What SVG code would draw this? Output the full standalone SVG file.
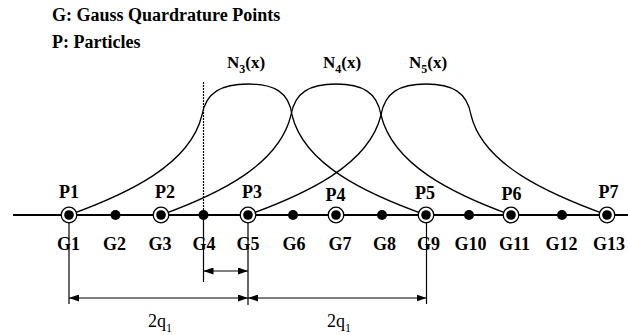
<svg xmlns="http://www.w3.org/2000/svg" width="628" height="335" viewBox="0 0 628 335">
<style>
.curve{fill:none;stroke:#000;stroke-width:1.3}
.ln{fill:none;stroke:#000;stroke-width:1.2}
.dim{fill:none;stroke:#000;stroke-width:1.2;marker-start:url(#ah);marker-end:url(#ah)}
.ring{fill:#fff;stroke:#000;stroke-width:1.3}
.dot{fill:#000}
</style>
<defs>
<marker id="ah" viewBox="0 0 10 7" refX="10" refY="3.5" markerWidth="10" markerHeight="7" markerUnits="userSpaceOnUse" orient="auto-start-reverse">
<path d="M0,0 L10,3.5 L0,7 z" fill="#000"/>
</marker>
</defs>
<rect width="628" height="335" fill="#fff"/>
<text x="52" y="21" font-family="Times New Roman" font-size="18" font-weight="bold">G: Gauss Quardrature Points</text>
<text x="52" y="48" font-family="Times New Roman" font-size="18" font-weight="bold">P: Particles</text>
<g id="connectors">
<line x1="13" y1="215" x2="628" y2="215" stroke="#000" stroke-width="1.8"/>
<path id="N3" class="curve" d="M69 215 C127 194,190 165,202 115 C206 92,222 84,248 84 C274 84,289 92,292 115 C304 165,367 194,426 215"/>
<path id="N4" class="curve" d="M161 215 C219 194,279 165,291 115 C295 92,310 84,336 84 C362 84,377 92,381 115 C393 165,453 194,511 215"/>
<path id="N5" class="curve" d="M248 215 C306 194,369 165,381 115 C385 92,400 84,426 84 C452 84,467 92,471 115 C483 165,549 194,607 215"/>
<line class="ln" x1="203.5" y1="82" x2="203.5" y2="215" stroke-dasharray="2 1"/>
<line class="ln" x1="203.5" y1="215" x2="203.5" y2="282"/>
<line class="ln" x1="69" y1="215" x2="69" y2="304"/>
<line class="ln" x1="248" y1="215" x2="248" y2="305"/>
<line class="ln" x1="426.5" y1="215" x2="426.5" y2="304"/>
<line class="dim" x1="203.5" y1="271" x2="248" y2="271"/>
<line class="dim" x1="69" y1="298" x2="248" y2="298"/>
<line class="dim" x1="248" y1="298" x2="426.5" y2="298"/>
</g>
<text x="227" y="68" font-family="Times New Roman" font-size="17" font-weight="bold">N<tspan font-size="12" dy="5">3</tspan><tspan dy="-5">(x)</tspan></text>
<text x="323" y="68" font-family="Times New Roman" font-size="17" font-weight="bold">N<tspan font-size="12" dy="5">4</tspan><tspan dy="-5">(x)</tspan></text>
<text x="409" y="68" font-family="Times New Roman" font-size="17" font-weight="bold">N<tspan font-size="12" dy="5">5</tspan><tspan dy="-5">(x)</tspan></text>
<text x="148" y="327" font-family="Times New Roman" font-size="18">2q<tspan font-size="12" dy="5">1</tspan></text>
<text x="327" y="327" font-family="Times New Roman" font-size="18">2q<tspan font-size="12" dy="5">1</tspan></text>
<g id="P1"><circle class="ring" cx="69" cy="215" r="7.8"/><circle class="dot" cx="69" cy="215" r="4.8"/></g>
<g id="P2"><circle class="ring" cx="161" cy="215" r="7.8"/><circle class="dot" cx="161" cy="215" r="4.8"/></g>
<g id="P3"><circle class="ring" cx="248" cy="215" r="7.8"/><circle class="dot" cx="248" cy="215" r="4.8"/></g>
<g id="P4"><circle class="ring" cx="336" cy="215" r="7.8"/><circle class="dot" cx="336" cy="215" r="4.8"/></g>
<g id="P5"><circle class="ring" cx="426" cy="215" r="7.8"/><circle class="dot" cx="426" cy="215" r="4.8"/></g>
<g id="P6"><circle class="ring" cx="511" cy="215" r="7.8"/><circle class="dot" cx="511" cy="215" r="4.8"/></g>
<g id="P7"><circle class="ring" cx="607" cy="215" r="7.8"/><circle class="dot" cx="607" cy="215" r="4.8"/></g>
<g id="G2"><circle class="dot" cx="115.5" cy="215" r="5"/></g>
<g id="G4"><circle class="dot" cx="203.5" cy="215" r="5"/></g>
<g id="G6"><circle class="dot" cx="293" cy="215" r="5"/></g>
<g id="G8"><circle class="dot" cx="382" cy="215" r="5"/></g>
<g id="G10"><circle class="dot" cx="469" cy="215" r="5"/></g>
<g id="G12"><circle class="dot" cx="562" cy="215" r="5"/></g>
<text x="69" y="198" font-family="Times New Roman" font-size="18" font-weight="bold" text-anchor="middle">P1</text>
<text x="165" y="198" font-family="Times New Roman" font-size="18" font-weight="bold" text-anchor="middle">P2</text>
<text x="252" y="198" font-family="Times New Roman" font-size="18" font-weight="bold" text-anchor="middle">P3</text>
<text x="335.5" y="201" font-family="Times New Roman" font-size="18" font-weight="bold" text-anchor="middle">P4</text>
<text x="425" y="199" font-family="Times New Roman" font-size="18" font-weight="bold" text-anchor="middle">P5</text>
<text x="511.5" y="200" font-family="Times New Roman" font-size="18" font-weight="bold" text-anchor="middle">P6</text>
<text x="608.5" y="198" font-family="Times New Roman" font-size="18" font-weight="bold" text-anchor="middle">P7</text>
<text x="68.5" y="250" font-family="Times New Roman" font-size="18" font-weight="bold" text-anchor="middle">G1</text>
<text x="114.5" y="250" font-family="Times New Roman" font-size="18" font-weight="bold" text-anchor="middle">G2</text>
<text x="160" y="250" font-family="Times New Roman" font-size="18" font-weight="bold" text-anchor="middle">G3</text>
<text x="204" y="250" font-family="Times New Roman" font-size="18" font-weight="bold" text-anchor="middle">G4</text>
<text x="248" y="250" font-family="Times New Roman" font-size="18" font-weight="bold" text-anchor="middle">G5</text>
<text x="294" y="250" font-family="Times New Roman" font-size="18" font-weight="bold" text-anchor="middle">G6</text>
<text x="340" y="250" font-family="Times New Roman" font-size="18" font-weight="bold" text-anchor="middle">G7</text>
<text x="384.5" y="250" font-family="Times New Roman" font-size="18" font-weight="bold" text-anchor="middle">G8</text>
<text x="428.5" y="250" font-family="Times New Roman" font-size="18" font-weight="bold" text-anchor="middle">G9</text>
<text x="470.5" y="250" font-family="Times New Roman" font-size="18" font-weight="bold" text-anchor="middle">G10</text>
<text x="514.5" y="250" font-family="Times New Roman" font-size="18" font-weight="bold" text-anchor="middle">G11</text>
<text x="561.5" y="250" font-family="Times New Roman" font-size="18" font-weight="bold" text-anchor="middle">G12</text>
<text x="609" y="250" font-family="Times New Roman" font-size="18" font-weight="bold" text-anchor="middle">G13</text>
</svg>
